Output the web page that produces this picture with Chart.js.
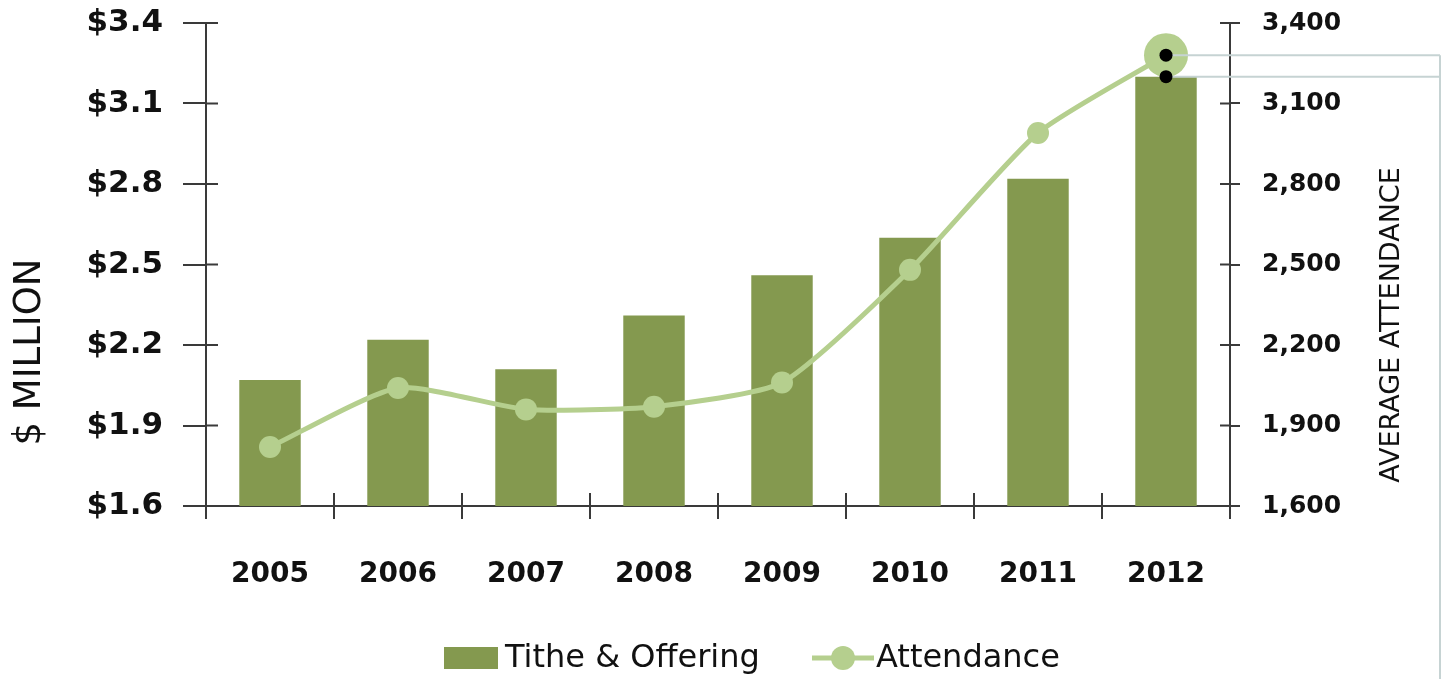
<!DOCTYPE html>
<html>
<head>
<meta charset="utf-8">
<script src="https://cdn.jsdelivr.net/npm/chart.js@4.4.1/dist/chart.umd.min.js"></script>
<style>
  body { margin: 0; background: #fff; }
  #wrap { width: 1446px; height: 679px; position: relative; }
</style>
</head>
<body>
<div id="wrap"><canvas id="myChart"></canvas></div>
<script>
// data
const years = ['2005', '2006', '2007', '2008', '2009', '2010', '2011', '2012'];
const titheValues = [2.07, 2.22, 2.11, 2.31, 2.46, 2.60, 2.82, 3.20];
const attendanceValues = [1820, 2040, 1960, 1970, 2060, 2480, 2990, 3280];
const moneyTickLabels = ['$1.6', '$1.9', '$2.2', '$2.5', '$2.8', '$3.1', '$3.4'];
const attendanceTickLabels = ['1,600', '1,900', '2,200', '2,500', '2,800', '3,100', '3,400'];

const barColor = '#84994f';
const lineColor = '#b5cf8e';
const axisColor = '#3a3a3a';
const FONT = 'DejaVu Sans';

// inside half of the crossing ticks, axis titles, 2012 callout and legend
const extras = {
    id: 'extras',
    afterDatasetsDraw(chart) {
        const ctx = chart.ctx;
        const x = chart.scales.x, yL = chart.scales.y, yR = chart.scales.y2;
        const area = chart.chartArea;

        ctx.save();
        ctx.strokeStyle = axisColor;
        ctx.lineWidth = 2;
        ctx.beginPath();
        yL.ticks.forEach((t, i) => {
            const py = yL.getPixelForTick(i);
            ctx.moveTo(area.left, py); ctx.lineTo(area.left + 12, py);
        });
        yR.ticks.forEach((t, i) => {
            const py = yR.getPixelForTick(i);
            ctx.moveTo(area.right - 10, py); ctx.lineTo(area.right, py);
        });
        const step = (area.right - area.left) / years.length;
        for (let i = 0; i <= years.length; i++) {
            const px = area.left + step * i;
            ctx.moveTo(px, area.bottom - 13); ctx.lineTo(px, area.bottom);
        }
        ctx.stroke();

        // 2012 callout
        const last = years.length - 1;
        const cx = x.getPixelForValue(last);
        const pA = yR.getPixelForValue(attendanceValues[last]);
        const pT = yL.getPixelForValue(titheValues[last]);
        ctx.strokeStyle = '#c6d3d3';
        ctx.lineWidth = 2;
        ctx.beginPath();
        ctx.moveTo(cx, pA); ctx.lineTo(1440, pA);
        ctx.moveTo(cx, pT); ctx.lineTo(1440, pT);
        ctx.moveTo(1440, pA); ctx.lineTo(1440, chart.height);
        ctx.stroke();
        ctx.fillStyle = '#000';
        [pA, pT].forEach(py => {
            ctx.beginPath(); ctx.arc(cx, py, 6.5, 0, Math.PI * 2); ctx.fill();
        });

        // axis titles
        ctx.fillStyle = '#111';
        ctx.textAlign = 'center';
        ctx.textBaseline = 'middle';
        ctx.font = '37px "' + FONT + '"';
        ctx.save();
        ctx.translate(30, 352);
        ctx.rotate(-Math.PI / 2);
        ctx.fillText('$ MILLION', 0, 0);
        ctx.restore();
        ctx.font = '27px "' + FONT + '"';
        ctx.save();
        ctx.translate(1392, 325);
        ctx.rotate(-Math.PI / 2);
        ctx.fillText('AVERAGE ATTENDANCE', 0, 0);
        ctx.restore();

        // legend
        ctx.font = '32px "' + FONT + '"';
        ctx.textAlign = 'left';
        ctx.fillStyle = barColor;
        ctx.fillRect(444, 647, 54, 22);
        ctx.fillStyle = '#111';
        ctx.fillText(chart.data.datasets[1].label, 505, 659);
        ctx.strokeStyle = lineColor;
        ctx.lineWidth = 5;
        ctx.beginPath(); ctx.moveTo(812, 658); ctx.lineTo(874, 658); ctx.stroke();
        ctx.fillStyle = lineColor;
        ctx.beginPath(); ctx.arc(843, 658, 12, 0, Math.PI * 2); ctx.fill();
        ctx.fillStyle = '#111';
        ctx.fillText(chart.data.datasets[0].label, 876, 659);
        ctx.restore();
    }
};

new Chart('myChart', {
    type: 'bar',
    data: {
        labels: years,
        datasets: [{
            type: 'line',
            label: 'Attendance',
            data: attendanceValues,
            yAxisID: 'y2',
            borderColor: lineColor,
            backgroundColor: lineColor,
            borderWidth: 5,
            tension: 0.2,
            pointRadius: [11, 11, 11, 11, 11, 11, 11, 22],
            pointBorderWidth: 0,
            pointBackgroundColor: lineColor,
            order: 0
        }, {
            label: 'Tithe & Offering',
            data: titheValues,
            yAxisID: 'y',
            backgroundColor: barColor,
            barPercentage: 0.48,
            categoryPercentage: 1,
            order: 1
        }]
    },
    options: {
        responsive: true,
        maintainAspectRatio: false,
        animation: false,
        events: [],
        layout: { padding: { top: 23, left: 0, right: 0, bottom: 0 } },
        plugins: { legend: { display: false }, tooltip: { enabled: false } },
        scales: {
            x: {
                afterFit: s => { s.height = 173; s.paddingLeft = 0; s.paddingRight = 0; },
                grid: { offset: true, drawOnChartArea: false, color: axisColor, lineWidth: 2, tickLength: 13 },
                border: { color: axisColor, width: 2 },
                ticks: { color: '#111', padding: 39, font: { family: FONT, size: 28, weight: 'bold' } }
            },
            y: {
                position: 'left',
                min: 1.6, max: 3.4,
                afterFit: s => { s.width = 206; s.paddingTop = 0; s.paddingBottom = 0; },
                grid: { drawOnChartArea: false, color: axisColor, lineWidth: 2, tickLength: 23 },
                border: { color: axisColor, width: 2 },
                ticks: {
                    stepSize: 0.3,
                    color: '#111', padding: 20,
                    font: { family: FONT, size: 31, weight: 'bold' },
                    callback: (v, i) => moneyTickLabels[i]
                }
            },
            y2: {
                position: 'right',
                min: 1600, max: 3400,
                afterFit: s => { s.width = 216; s.paddingTop = 0; s.paddingBottom = 0; },
                grid: { drawOnChartArea: false, color: axisColor, lineWidth: 2, tickLength: 10 },
                border: { color: axisColor, width: 2 },
                ticks: {
                    stepSize: 300,
                    color: '#111', padding: 22,
                    font: { family: FONT, size: 25, weight: 'bold' },
                    callback: (v, i) => attendanceTickLabels[i]
                }
            }
        }
    },
    plugins: [extras]
});
</script>
</body>
</html>
